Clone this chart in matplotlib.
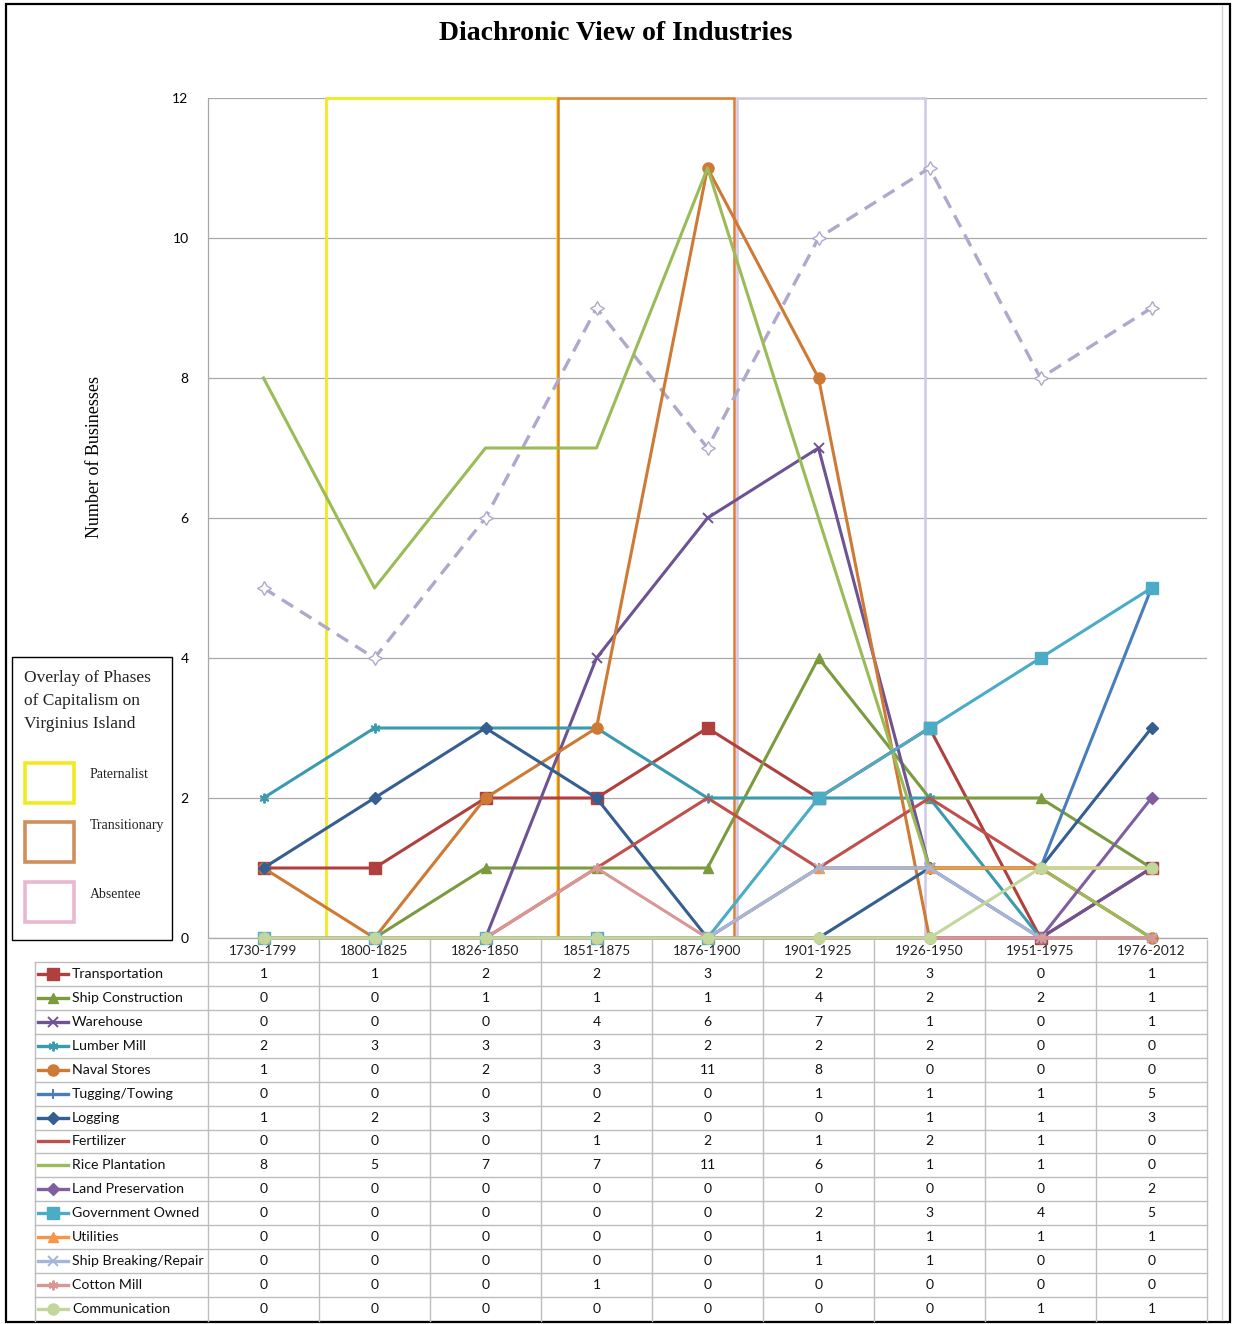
import matplotlib
matplotlib.use("Agg")
import matplotlib.pyplot as plt
from matplotlib.patches import Rectangle
import matplotlib.transforms as mtrans

# ---------------- data ----------------
periods = ["1730-1799", "1800-1825", "1826-1850", "1851-1875", "1876-1900",
           "1901-1925", "1926-1950", "1951-1975", "1976-2012"]

transportation = [1, 1, 2, 2, 3, 2, 3, 0, 1]
ship_construction = [0, 0, 1, 1, 1, 4, 2, 2, 1]
warehouse = [0, 0, 0, 4, 6, 7, 1, 0, 1]
lumber_mill = [2, 3, 3, 3, 2, 2, 2, 0, 0]
naval_stores = [1, 0, 2, 3, 11, 8, 0, 0, 0]
tugging_towing = [0, 0, 0, 0, 0, 1, 1, 1, 5]
logging = [1, 2, 3, 2, 0, 0, 1, 1, 3]
fertilizer = [0, 0, 0, 1, 2, 1, 2, 1, 0]
rice_plantation = [8, 5, 7, 7, 11, 6, 1, 1, 0]
land_preservation = [0, 0, 0, 0, 0, 0, 0, 0, 2]
government_owned = [0, 0, 0, 0, 0, 2, 3, 4, 5]
utilities = [0, 0, 0, 0, 0, 1, 1, 1, 1]
ship_breaking = [0, 0, 0, 0, 0, 1, 1, 0, 0]
cotton_mill = [0, 0, 0, 1, 0, 0, 0, 0, 0]
communication = [0, 0, 0, 0, 0, 0, 0, 1, 1]

dashed_series = [5, 4, 6, 9, 7, 10, 11, 8, 9]

series_names = ["Transportation", "Ship Construction", "Warehouse", "Lumber Mill",
                "Naval Stores", "Tugging/Towing", "Logging", "Fertilizer",
                "Rice Plantation", "Land Preservation", "Government Owned",
                "Utilities", "Ship Breaking/Repair", "Cotton Mill", "Communication"]
series_values = [transportation, ship_construction, warehouse, lumber_mill,
                 naval_stores, tugging_towing, logging, fertilizer,
                 rice_plantation, land_preservation, government_owned,
                 utilities, ship_breaking, cotton_mill, communication]

phase_names = ["Paternalist", "Transitionary", "Absentee"]
phase_spans = [(0.56, 2.64), (2.65, 4.24), (4.27, 5.96)]  # in category-index units
legend_title_lines = ["Overlay of Phases", "of Capitalism on", "Virginius Island"]

# ---------------- styles ----------------
ASTER = (6, 2, 0)
colors = ["#B0403E", "#7C9A3E", "#6E5394", "#3A9AAE", "#CF7A34", "#4A7EBB",
          "#355E91", "#C0504D", "#9BBB59", "#7F5FA1", "#4BACC6", "#F79646",
          "#A5B6D8", "#D99694", "#C3D69B"]
markers = ["s", "^", "x", ASTER, "o", "+", "D", None, None, "D", "s", "^",
           "x", ASTER, "o"]
phase_colors = ["#F2EA1E", "#E07B33", "#CFC8E6"]
legend_phase_colors = ["#F2EA1E", "#CF8E5A", "#E8B8D0"]
dash_color = "#B0A8CC"


def msize(m):
    if m in ("s", "o"):
        return 8
    if m == "^":
        return 7.5
    if m == "D":
        return 6
    return 7


def mwidth(m):
    return 1.4 if m in ("x", "+", ASTER) else 1


W, H = 1233, 1324
fig = plt.figure(figsize=(W / 100, H / 100), dpi=100)
fig.patch.set_facecolor("white")

SANS = "Lato"
SERIF = "Liberation Serif"

# overlay axes in pixel coords for table, frame, legend box
tab = fig.add_axes([0, 0, 1, 1], zorder=0)
tab.set_xlim(0, W)
tab.set_ylim(H, 0)
tab.axis("off")

ax = fig.add_axes([208 / W, 1 - 938 / H, (1207 - 208) / W, (938 - 98) / H], zorder=1)
ax.set_xlim(-0.5, len(periods) - 0.5)
ax.set_ylim(0, 12)
ax.set_yticks(range(0, 13, 2))
ax.set_xticks([])
ax.tick_params(axis="y", length=0, pad=14, labelsize=10)
for lab in ax.get_yticklabels():
    lab.set_fontfamily(SANS)
ax.grid(axis="y", color="#A8A8A8", lw=0.9)
ax.set_axisbelow(True)
for s in ["top", "right"]:
    ax.spines[s].set_visible(False)
for s in ["left", "bottom"]:
    ax.spines[s].set_color("#A8A8A8")
    ax.spines[s].set_linewidth(0.9)

x = list(range(len(periods)))

# phase overlays
for (a, b), c, lw in zip(phase_spans, phase_colors, [2.0, 1.8, 1.8]):
    ax.add_patch(Rectangle((a, 0), b - a, 12, fill=False, edgecolor=c, lw=lw, zorder=1.5,
                           clip_on=False))

# dashed series
ax.plot(x, dashed_series, color=dash_color, lw=2.4, dashes=(4, 2.5), marker=(4, 1, 0),
        ms=10, mfc="white", mec=dash_color, mew=1.0, zorder=2, clip_on=False)

# series
for name, vals, c, m in zip(series_names, series_values, colors, markers):
    ax.plot(x, vals, color=c, lw=2.2, marker=m, ms=msize(m), mew=mwidth(m),
            zorder=3, clip_on=False)

# ---------------- table ----------------
bt = mtrans.blended_transform_factory(ax.transData, tab.transData)
row_top = 962
row_h = 23.93
n = len(series_names)
grid_c = "#BDBDBD"
for k in range(n + 1):
    yy = row_top + k * row_h
    tab.plot([35, 1207], [yy, yy], color=grid_c, lw=1.0, zorder=1)
tab.plot([35, 35], [row_top, row_top + n * row_h], color=grid_c, lw=1.0)
for i in range(len(periods) + 1):
    tab.plot([i - 0.5, i - 0.5], [940, row_top + n * row_h], color=grid_c, lw=1.0,
             transform=bt)
for i, p in enumerate(periods):
    tab.text(i, 951, p, transform=bt, ha="center", va="center", fontsize=9.8,
             fontfamily=SANS, color="#222222")
for r, (name, vals, c, m) in enumerate(zip(series_names, series_values, colors, markers)):
    yc = row_top + (r + 0.5) * row_h
    tab.plot([38, 68], [yc, yc], color=c, lw=2.4)
    if m is not None:
        tab.plot([53], [yc], color=c, marker=m, ms=msize(m), mew=mwidth(m))
    tab.text(72, yc, name, ha="left", va="center", fontsize=10.2, fontfamily=SANS,
             color="#111111")
    for i, v in enumerate(vals):
        tab.text(i, yc, str(v), transform=bt, ha="center", va="center", fontsize=10,
                 fontfamily=SANS, color="#111111")

# ---------------- legend box for phases ----------------
tab.add_patch(Rectangle((12, 657), 160, 283, fill=False, edgecolor="black", lw=1.0))
for ty, line in zip([678, 701, 724], legend_title_lines):
    tab.text(24, ty, line, ha="left", va="center", fontsize=12.5, fontfamily=SERIF,
             color="#222222")
sq_y = [763, 822, 882]
txt_y = [774, 826, 895]
for yy, ty, c, nm in zip(sq_y, txt_y, legend_phase_colors, phase_names):
    tab.add_patch(Rectangle((25, yy), 49, 40, fill=False, edgecolor=c, lw=2.6))
    tab.text(90, ty, nm, ha="left", va="center", fontsize=10, fontfamily=SERIF,
             color="#222222")

# ---------------- titles & frame ----------------
fig.text(616 / W, 1 - 33 / H, "Diachronic View of Industries", ha="center", va="center",
         fontsize=20, fontweight="bold", fontfamily=SERIF)
fig.text(95 / W, 1 - 457 / H, "Number of Businesses", rotation=90, ha="center", va="center",
         fontsize=13, fontfamily=SERIF)
tab.add_patch(Rectangle((6, 4), 1224, 1318, fill=False, edgecolor="black", lw=1.6))
tab.plot([1222, 1222], [6, 1320], color="#D0D0D0", lw=1.0)

fig.savefig("out.png", dpi=100)
